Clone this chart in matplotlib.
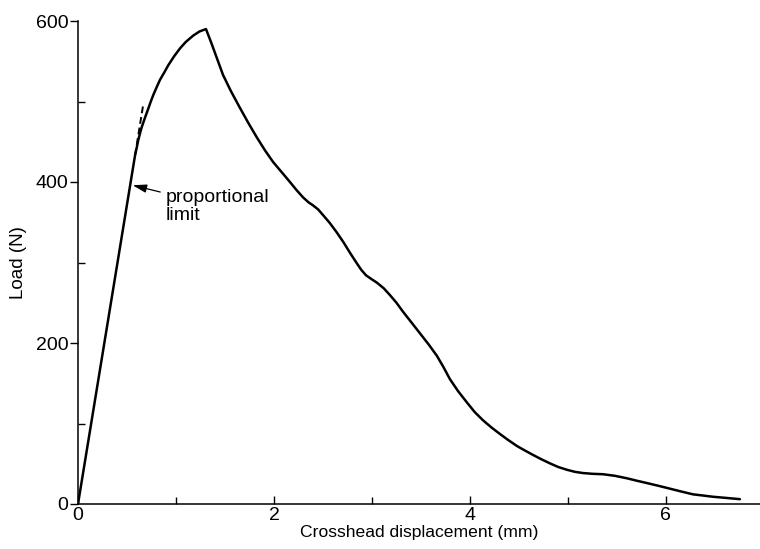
import matplotlib
matplotlib.use("Agg")
import matplotlib.pyplot as plt
from matplotlib.ticker import MultipleLocator

# Load–displacement record (crosshead displacement in mm, load in N)
displacement = [0.0, 0.582, 0.600, 0.615, 0.634, 0.650, 0.684, 0.717, 0.740,
                0.768, 0.800, 0.837, 0.880, 0.921, 0.980, 1.041, 1.100, 1.177,
                1.240, 1.306,
                1.36, 1.42, 1.48, 1.56, 1.653, 1.74, 1.827, 1.91, 1.99, 2.08,
                2.163, 2.23, 2.296, 2.35, 2.398, 2.45, 2.50, 2.57, 2.643, 2.71,
                2.776, 2.84, 2.89, 2.94, 3.00, 3.05, 3.12, 3.18, 3.25, 3.316,
                3.40, 3.49, 3.58, 3.663, 3.73, 3.796, 3.88, 3.97, 4.05, 4.133,
                4.22, 4.306, 4.39, 4.48, 4.56, 4.643, 4.73, 4.816, 4.90, 4.99,
                5.07, 5.15, 5.25, 5.357, 5.48, 5.60, 5.70, 5.806, 5.91, 6.01,
                6.14, 6.276, 6.38, 6.48, 6.62, 6.755]
load = [0.0, 433, 443, 452, 461, 468, 480, 491, 499,
        508, 517, 527, 536, 545, 556, 566, 574, 582,
        587, 590,
        573, 553, 533, 513, 492, 473, 455, 439, 425, 412,
        400, 390, 381, 375, 371, 366, 359, 349, 337, 325,
        312, 300, 291, 284, 279, 275, 268, 260, 250, 239,
        226, 212, 198, 184, 170, 155, 140, 126, 114, 104,
        95, 87, 79.5, 72, 66.5, 61, 55.5, 50.5, 46, 42.5,
        40, 38.5, 37.5, 37, 35, 32, 29, 26, 23, 20,
        16, 12, 10.5, 9, 7.5, 6]

# Extension of the initial linear segment (dashed)
tangent_x = [0.582, 0.668]
tangent_load = [433, 498]

# Proportional limit annotation
limit_point = (0.558, 396)
limit_text_pos = (0.895, 370)

x_ticks = [0, 2, 4, 6]
y_ticks = [0, 200, 400, 600]

plt.rcParams['font.family'] = ['Liberation Sans', 'DejaVu Sans']

fig = plt.figure(figsize=(7.6, 5.49), dpi=100)
ax = fig.add_axes([78 / 760, 45 / 549, 682 / 760, 483 / 549])

ax.plot(displacement, load, color='black', lw=1.8,
        solid_joinstyle='round', solid_capstyle='round')
ax.plot(tangent_x, tangent_load, color='black', lw=1.4, ls=(0, (3.5, 2.0)))

ax.annotate('proportional\nlimit', xy=limit_point, xytext=limit_text_pos,
            fontsize=14, ha='left', va='center', linespacing=1.1,
            arrowprops=dict(arrowstyle='-|>,head_length=0.6,head_width=0.18',
                            color='black', lw=0.9,
                            shrinkA=2, shrinkB=0))

ax.set_xlim(0, 6.96)
ax.set_ylim(0, 600)

for side in ('top', 'right'):
    ax.spines[side].set_visible(False)
for side in ('left', 'bottom'):
    ax.spines[side].set_linewidth(1.1)

ax.set_xticks(x_ticks)
ax.set_yticks(y_ticks)
ax.xaxis.set_minor_locator(MultipleLocator(1))
ax.yaxis.set_minor_locator(MultipleLocator(100))

ax.tick_params(axis='x', which='major', direction='in', length=6, width=1,
               labelsize=14, pad=2)
ax.tick_params(axis='x', which='minor', direction='in', length=5, width=1)
ax.tick_params(axis='y', which='major', direction='out', length=6, width=1,
               labelsize=14, pad=1)
ax.tick_params(axis='y', which='minor', direction='in', length=5, width=1)

ax.set_xlabel('Crosshead displacement (mm)', fontsize=12.6, labelpad=1)
ax.set_ylabel('Load (N)', fontsize=13.5, labelpad=6)

fig.savefig('out.png', dpi=100)
